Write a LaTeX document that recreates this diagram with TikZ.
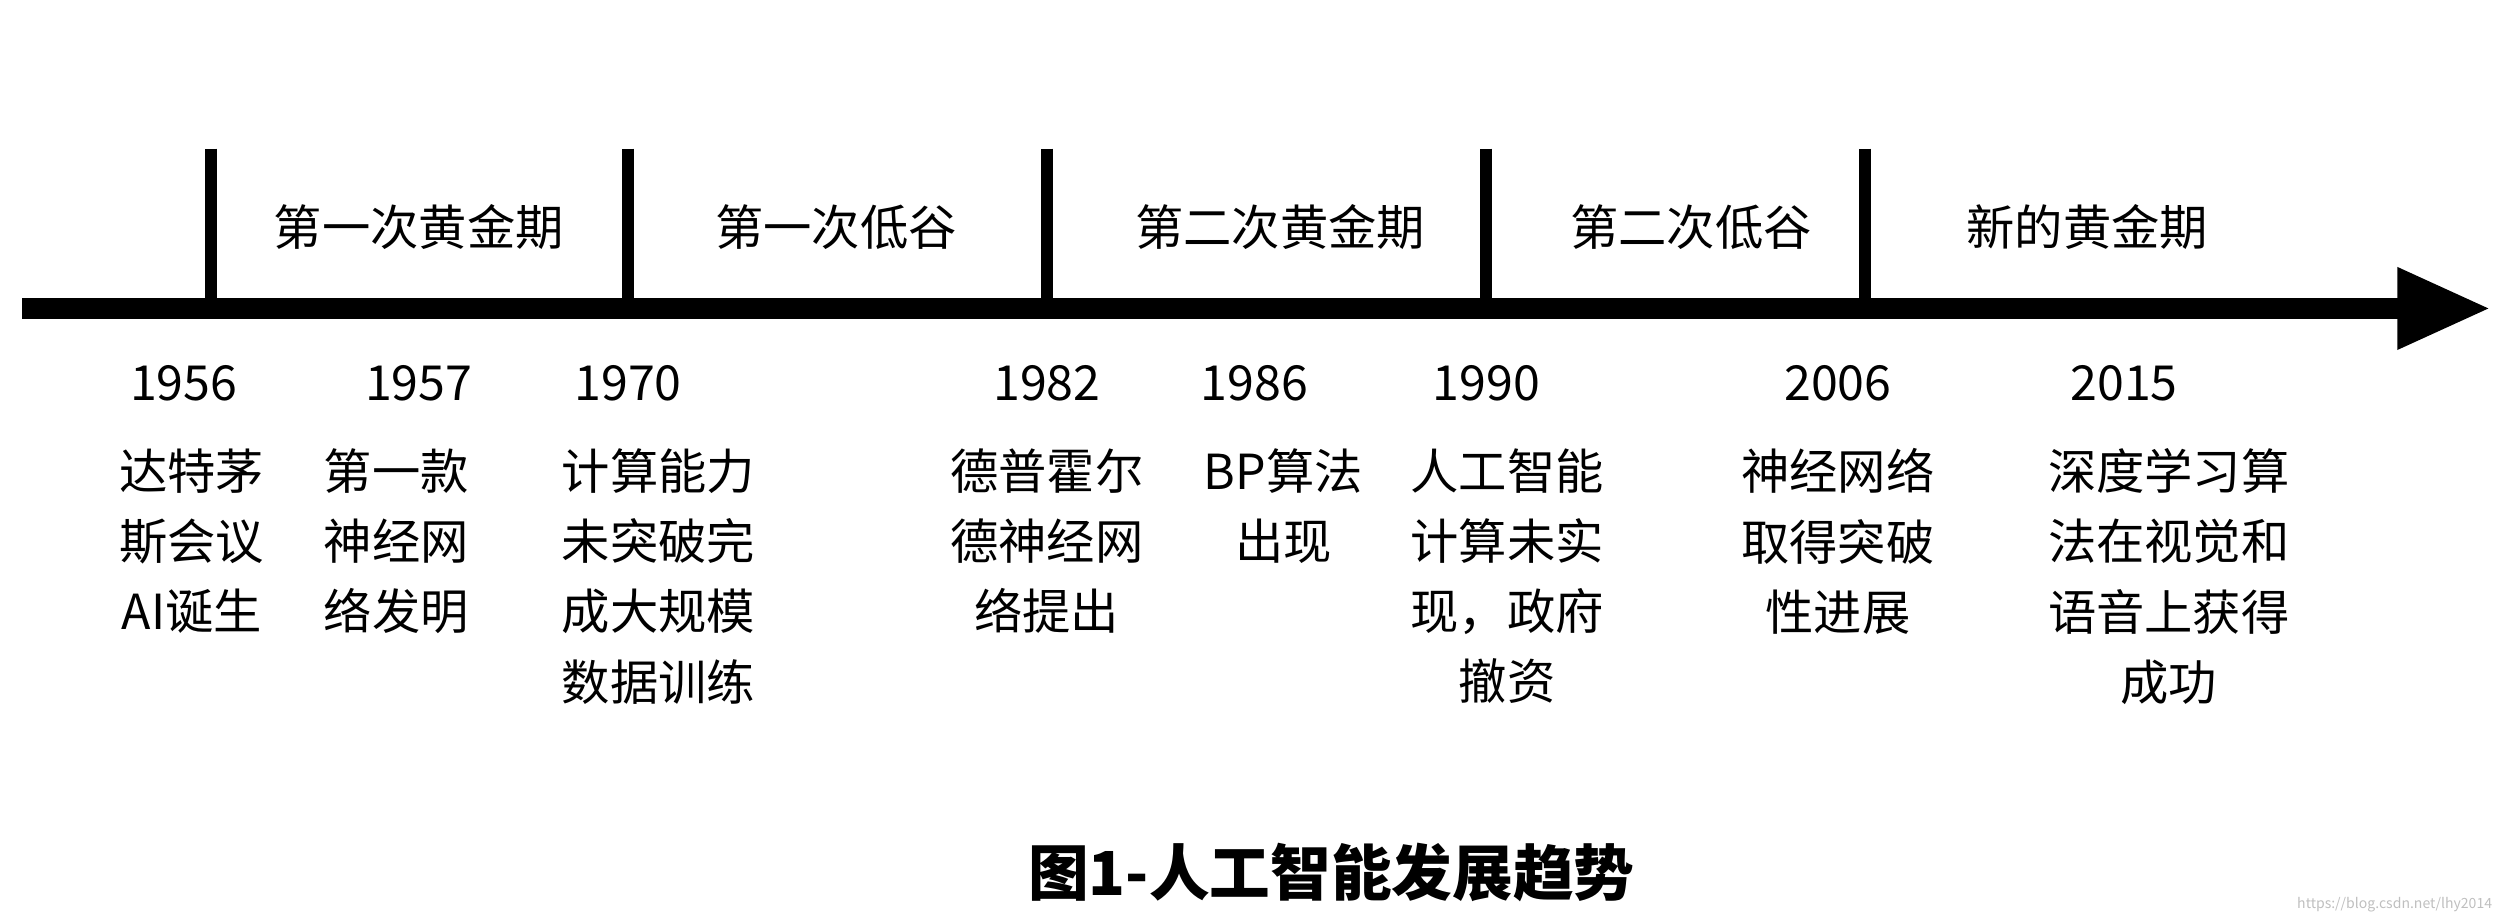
\documentclass[tikz,border=0pt]{standalone}
\usepackage{fontspec}
\setmainfont{Noto Sans CJK SC}
\begin{document}
\begin{tikzpicture}[x=0.1mm,y=-0.1mm]
\tikzset{lbl/.style={font=\fontsize{8.6}{10}\selectfont,inner sep=0},
 desc/.style={font=\fontsize{8.6}{12.5}\selectfont,inner sep=0,align=center,anchor=north}}
\useasboundingbox (0,0) rectangle (1568,577);
\coordinate (s) at (14,193);
\coordinate (e) at (1505,193);
\draw[line width=1.3mm] (s) -- (e);
\fill (1500,167) -- (1557,193) -- (1500,219) -- cycle;
\foreach \x/\n in {132/a,393/b,655/c,930/d,1167/f}{
 \coordinate (t\n) at (\x,93); \coordinate (u\n) at (\x,190);
 \draw[line width=0.75mm] (t\n) -- (u\n);}
\node[lbl] (p1) at (262,142) {第一次黄金期};
\node[lbl] (p2) at (523,142) {第一次低谷};
\node[lbl] (p3) at (801,142) {第二次黄金期};
\node[lbl] (p4) at (1058,142) {第二次低谷};
\node[lbl] (p5) at (1306,142) {新的黄金期};
\foreach \x/\y/\t in {115/1956,262/1957,393/1970,655/1982,785/1986,930/1990,1150/2006,1329/2015}
 \node[lbl] (y\y) at (\x,240) {\t};
\node[desc] (d1) at (120,280) {达特茅\\斯会议\\AI诞生};
\node[desc] (d2) at (248,280) {第一款\\神经网\\络发明};
\node[desc] (d3) at (412,280) {计算能力\\未突破完\\成大规模\\数据训练};
\node[desc] (d4) at (655,280) {德普霍尔\\德神经网\\络提出};
\node[desc] (d5) at (803,280) {BP算法\\出现};
\node[desc] (d6) at (943,280) {人工智能\\计算未实\\现，政府\\撤资};
\node[desc] (d7) at (1150,280) {神经网络\\取得突破\\性进展};
\node[desc] (d8) at (1357,280) {深度学习算\\法在视觉和\\语音上获得\\成功};
\node[inner sep=0,font=\fontsize{10.8}{12}\selectfont\bfseries] (title) at (833,546) {图1-人工智能发展趋势};
\node[inner sep=0,font=\fontsize{2.5}{3}\selectfont,text=gray!50,anchor=east] (wm) at (1560,566) {https://blog.csdn.net/lhy2014};
\end{tikzpicture}
\end{document}
